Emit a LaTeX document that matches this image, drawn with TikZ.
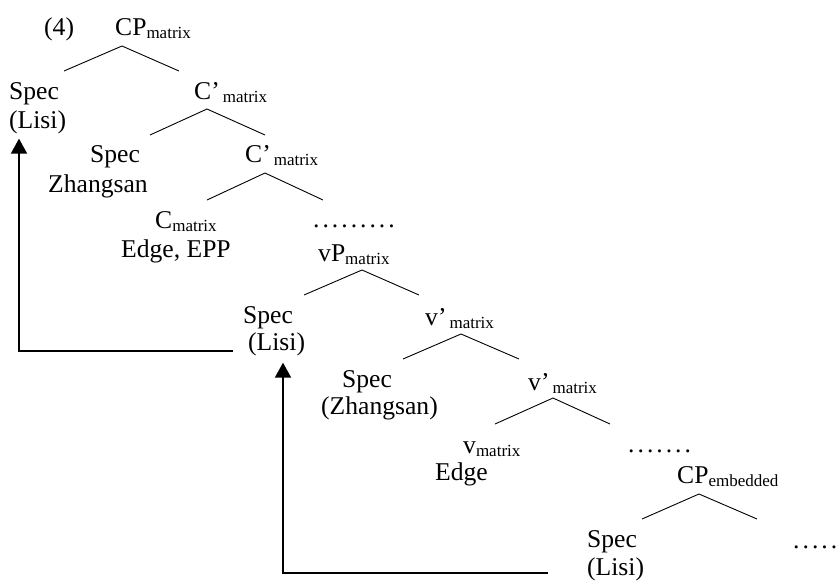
\documentclass[tikz,border=0pt]{standalone}
\usepackage{fontspec}
\setmainfont{Liberation Serif}
\usetikzlibrary{arrows.meta}

\newcommand{\sbs}[1]{\raisebox{-3pt}{\fontsize{17}{19}\selectfont #1}}
\newcommand{\dotsrow}[1]{\foreach \i in {1,...,#1}{.\ifnum\i<#1\kern3pt\fi}}

\begin{document}
\begin{tikzpicture}[x=1pt, y=-1pt,
  lab/.style={inner sep=0pt, anchor=base west, font=\fontsize{25.6}{28}\selectfont},
  branch/.style={line width=0.9pt},
  move/.style={line width=1.8pt, -{Triangle[length=15pt,width=16pt]}}]
\useasboundingbox (0,0) rectangle (837,581);

% labels of the tree
\node[lab] (ex) at (44,35) {(4)};
\node[lab] (cpm) at (115,35) {CP\sbs{matrix}};
\node[lab] (specA) at (9,99) {Spec};
\node[lab] (lisiA) at (9,128) {(Lisi)};
\node[lab] (cbarA) at (194,99) {C’\sbs{\kern3pt matrix}};
\node[lab] (specB) at (90,162) {Spec};
\node[lab] (zhangA) at (48,192) {Zhangsan};
\node[lab] (cbarB) at (245,162) {C’\sbs{\kern3pt matrix}};
\node[lab] (cm) at (155,228) {C\sbs{matrix}};
\node[lab] (edgeA) at (121,257) {Edge, EPP};
\node[lab] (dotsA) at (313,227) {\dotsrow{9}};
\node[lab] (vpm) at (318,261) {vP\sbs{matrix}};
\node[lab] (specC) at (243,323) {Spec};
\node[lab] (lisiB) at (248,350) {(Lisi)};
\node[lab] (vbarA) at (425,325) {v’\sbs{\kern3pt matrix}};
\node[lab] (specD) at (342,387) {Spec};
\node[lab] (zhangB) at (321,414) {(Zhangsan)};
\node[lab] (vbarB) at (528,390) {v’\sbs{\kern3pt matrix}};
\node[lab] (vm) at (463,453) {v\sbs{matrix}};
\node[lab] (edgeB) at (435,480) {Edge};
\node[lab] (dotsB) at (628,452) {\dotsrow{7}};
\node[lab] (cpe) at (677,483) {CP\sbs{embedded}};
\node[lab] (specE) at (587,547) {Spec};
\node[lab] (lisiC) at (587,575) {(Lisi)};
\node[lab] (dotsC) at (793,548) {\dotsrow{5}};

% branching points
\coordinate (cpm-t) at (122,46);
\coordinate (cbarA-t) at (207,109);
\coordinate (cbarB-t) at (265,173);
\coordinate (vpm-t) at (362,270);
\coordinate (vbarA-t) at (461,334);
\coordinate (vbarB-t) at (553,398);
\coordinate (cpe-t) at (699,494);

\draw[branch] (cpm-t) -- +(-58,25) (cpm-t) -- +(57,25);
\draw[branch] (cbarA-t) -- +(-57,26) (cbarA-t) -- +(58,26);
\draw[branch] (cbarB-t) -- +(-58,27) (cbarB-t) -- +(58,27);
\draw[branch] (vpm-t) -- +(-58,25) (vpm-t) -- +(57,25);
\draw[branch] (vbarA-t) -- +(-58,25) (vbarA-t) -- +(58,25);
\draw[branch] (vbarB-t) -- +(-58,26) (vbarB-t) -- +(57,26);
\draw[branch] (cpe-t) -- +(-57,25) (cpe-t) -- +(58,25);

% movement arrows
\coordinate (turnA) at (19,351);
\coordinate (turnB) at (283,573);
\draw[move, shorten <=15pt, shorten >=5pt] (lisiB.west |- turnA) -- (turnA) -- (turnA |- lisiA.south);
\draw[move, shorten <=39pt, shorten >=7pt] (lisiC.west |- turnB) -- (turnB) -- (turnB |- lisiB.south);
\end{tikzpicture}
\end{document}
